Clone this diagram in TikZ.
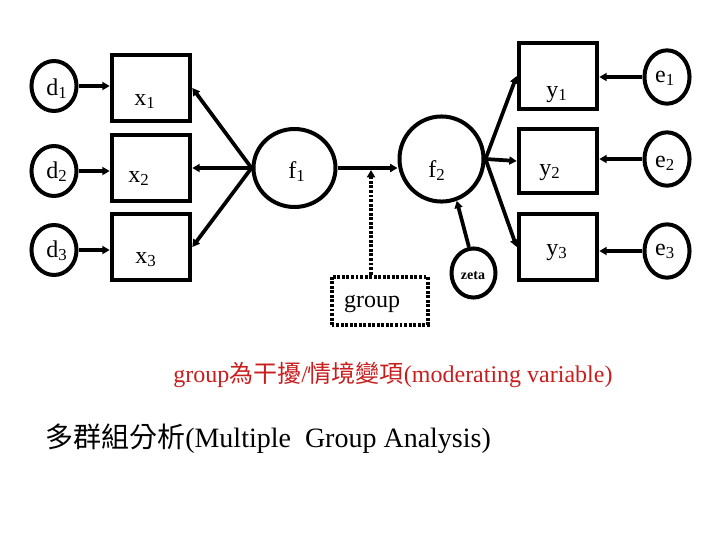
\documentclass[tikz,border=0pt]{standalone}
\usepackage{fontspec}
\setmainfont{Liberation Serif}
\newfontfamily\cjk{Noto Sans CJK TC}
\usetikzlibrary{arrows.meta,shapes.geometric}
\definecolor{notered}{RGB}{200,30,30}
\begin{document}
\begin{tikzpicture}[x=0.75pt,y=-0.75pt,
  box/.style={draw,line width=3pt,rectangle,minimum width=59pt,minimum height=49.5pt,inner sep=0pt},
  circ/.style={draw,line width=3pt,ellipse,inner sep=0pt},
  small/.style={circ,minimum width=33.8pt,minimum height=37.5pt},
  lab/.style={anchor=base,font=\fontsize{18}{20}\selectfont,inner sep=0pt},
  arr/.style={line width=2.8pt,-{Triangle[length=5.5pt,width=6pt]}},
  dotarr/.style={line width=2.8pt,dash pattern=on 2.2pt off 1.2pt,-{Triangle[length=5.5pt,width=6pt]}},
]
\useasboundingbox (0,0) rectangle (720,540);

% left disturbance circles
\node[small] (d1) at (54,86) {};
\node[small] (d2) at (54,171) {};
\node[small] (d3) at (54,250) {};
% x boxes
\node[box] (x1) at (151,88) {};
\node[box] (x2) at (151,168) {};
\node[box] (x3) at (151,247) {};
% factors
\node[circ,minimum width=61.5pt,minimum height=58.5pt] (f1) at (294.5,168) {};
\node[circ,minimum width=63pt,minimum height=63.8pt] (f2) at (441.5,159) {};
% y boxes
\node[box] (y1) at (558,76) {};
\node[box,minimum height=47.5pt] (y2) at (558,161) {};
\node[box] (y3) at (558,247) {};
% e circles
\node[circ,minimum width=33.8pt,minimum height=40pt] (e1) at (667,77) {};
\node[circ,minimum width=33.8pt,minimum height=40pt] (e2) at (667,159) {};
\node[circ,minimum width=33.8pt,minimum height=40pt] (e3) at (667,251) {};
% zeta
\node[circ,minimum width=33pt,minimum height=36.8pt] (zeta) at (473.5,273) {};
% group box
\node[draw,line width=3pt,dash pattern=on 2.2pt off 1.2pt,minimum width=72pt,minimum height=36pt,inner sep=0pt] (group) at (379.5,300.5) {};

% labels
\node[lab] (d1t) at (57,95) {d\textsubscript{1}};
\node[lab] (d2t) at (57,178) {d\textsubscript{2}};
\node[lab] (d3t) at (57,257) {d\textsubscript{3}};
\node[lab] (x1t) at (145,105) {x\textsubscript{1}};
\node[lab] (x2t) at (139,182) {x\textsubscript{2}};
\node[lab] (x3t) at (146,263) {x\textsubscript{3}};
\node[lab] (f1t) at (297,178) {f\textsubscript{1}};
\node[lab] (f2t) at (437,177) {f\textsubscript{2}};
\node[lab] (y1t) at (557,97) {y\textsubscript{1}};
\node[lab] (y2t) at (550,175) {y\textsubscript{2}};
\node[lab] (y3t) at (557,255) {y\textsubscript{3}};
\node[lab] (e1t) at (665,82) {e\textsubscript{1}};
\node[lab] (e2t) at (665,167) {e\textsubscript{2}};
\node[lab] (e3t) at (665,255) {e\textsubscript{3}};
\node[lab] (groupt) at (372,307) {group};
\node[anchor=base,inner sep=0pt,font=\bfseries\fontsize{10.5}{12}\selectfont] (zetat) at (473,279) {zeta};

% connectors
\draw[arr] (d1.east) -- (d1.east -| x1.west);
\draw[arr] (d2.east) -- (d2.east -| x2.west);
\draw[arr] (d3.east) -- (d3.east -| x3.west);
\draw[arr] (f1.west) -- (x1.east);
\draw[arr] (f1.west) -- (x2.east);
\draw[arr] (f1.west) -- (x3.east);
\draw[arr] (f1.east) -- (f1.east -| f2.west);
\draw[arr] (f2.east) -- (y1.west);
\draw[arr] (f2.east) -- (y2.west);
\draw[arr] (f2.east) -- (y3.west);
\draw[arr] (e1.west) -- (e1.west -| y1.east);
\draw[arr] (e2.west) -- (e2.west -| y2.east);
\draw[arr] (e3.west) -- (e3.west -| y3.east);
\draw[arr] (zeta.100) -- (f2.290);
\coordinate (gm) at (371,170);
\draw[dotarr] (group.north -| gm) -- (gm);

% texts
\node[anchor=base west,inner sep=0pt,text=notered,font=\fontsize{18}{20}\selectfont] (note) at (173,382)
  {group{\cjk 為干擾}/{\cjk 情境變項}(moderating variable)};
\node[anchor=base west,inner sep=0pt,font=\fontsize{21}{24}\selectfont] (title) at (45,447)
  {{\cjk 多群組分析}(Multiple\ \ Group Analysis)};
\end{tikzpicture}
\end{document}
